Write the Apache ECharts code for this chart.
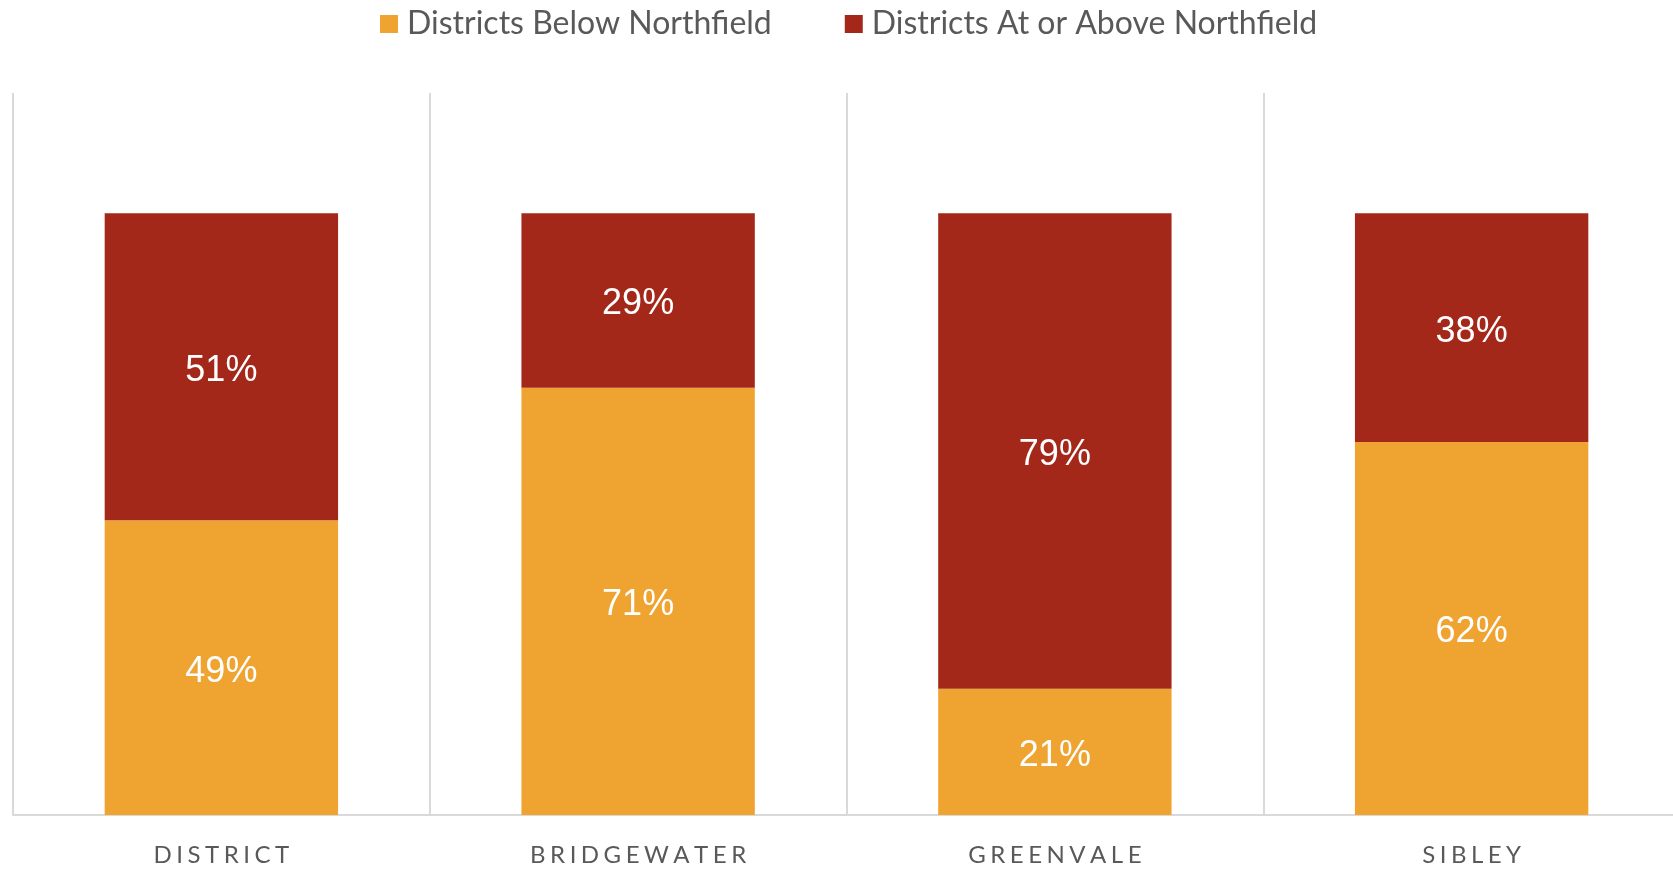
<!DOCTYPE html>
<html>
<head>
<meta charset="utf-8">
<script src="https://cdn.jsdelivr.net/npm/echarts@6/dist/echarts.min.js"></script>
<style>html,body{margin:0;padding:0;background:#fff}#c{width:1673px;height:869px}</style>
</head>
<body>
<div id="c"></div>
<script>
const categories = ['DISTRICT', 'BRIDGEWATER', 'GREENVALE', 'SIBLEY'];
const belowName = 'Districts Below Northfield';
const aboveName = 'Districts At or Above Northfield';
const belowValues = [49, 71, 21, 62];
const aboveValues = [51, 29, 79, 38];

const chart = echarts.init(document.getElementById('c'));
const spaced = s => s.split('').join('\u2009\u200A');
const labelCfg = {
  show: true, position: 'inside', color: '#ffffff', offset: [0, 4],
  fontFamily: 'Liberation Sans, Arial, sans-serif', fontSize: 36,
  formatter: p => p.value + '%'
};
chart.setOption({
  animation: false,
  legend: {
    left: 380, top: 8, padding: 0,
    itemWidth: 18, itemHeight: 18, itemGap: 73,
    icon: 'rect',
    textStyle: { fontFamily: 'Lato', fontSize: 32, color: '#595959', padding: [0, 0, 0, 4] },
    data: [belowName, aboveName]
  },
  grid: { left: 13, top: 93, width: 1667, bottom: 54, outerBoundsMode: 'none', containLabel: false },
  xAxis: {
    type: 'category', data: categories,
    axisLine: { lineStyle: { color: '#d9d9d9', width: 2 } },
    axisTick: { show: false },
    splitLine: { show: true, lineStyle: { color: '#d9d9d9', width: 2 } },
    axisLabel: { margin: 28, fontFamily: 'Lato', fontSize: 24, color: '#595959', formatter: v => spaced(v) }
  },
  yAxis: { type: 'value', min: 0, max: 120, show: false, splitLine: { show: false } },
  series: [
    { name: belowName, type: 'bar', stack: 's', data: belowValues, barWidth: '56%', itemStyle: { color: '#EFA330' }, label: labelCfg },
    { name: aboveName, type: 'bar', stack: 's', data: aboveValues, barWidth: '56%', itemStyle: { color: '#A3281A' }, label: labelCfg }
  ]
});
</script>
</body>
</html>
